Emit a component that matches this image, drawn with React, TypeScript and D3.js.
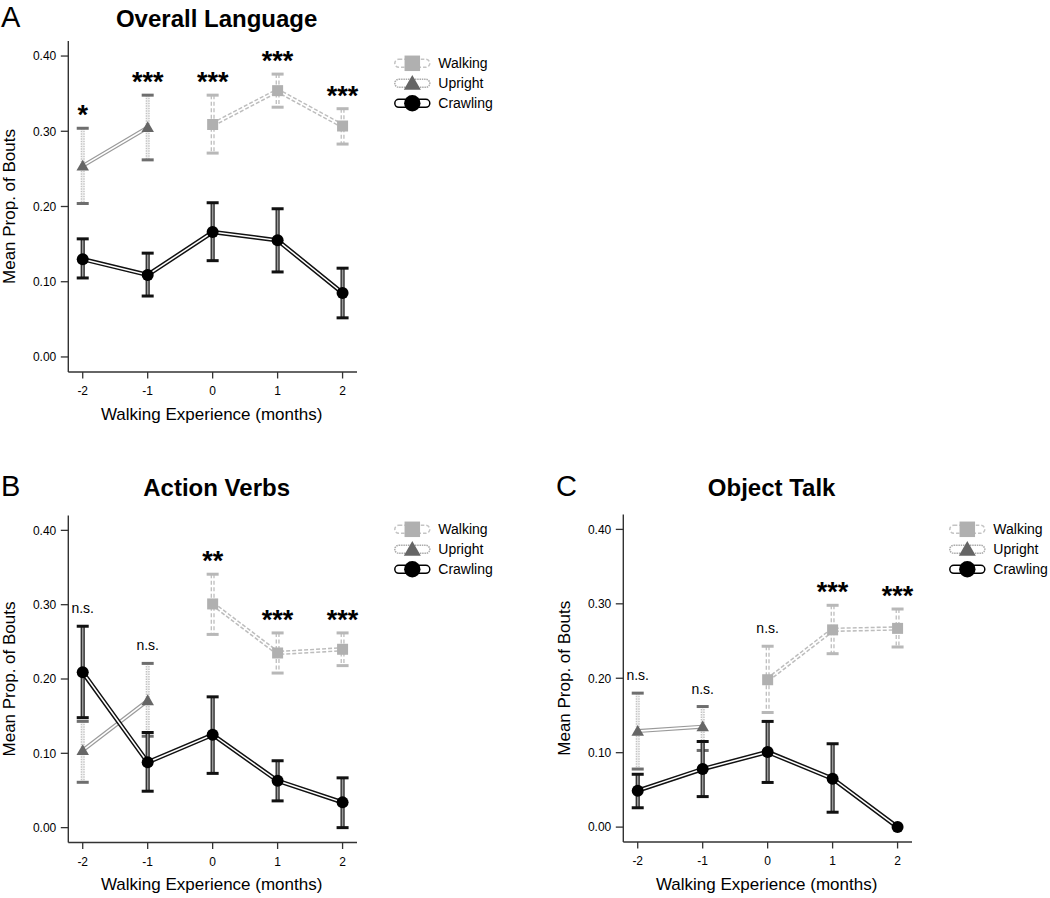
import React from "react";
import * as d3 from "d3";

// ---------- data ----------
const months = [-2, -1, 0, 1, 2];
const yTicks = [0, 0.1, 0.2, 0.3, 0.4];
const seriesNames = ["Walking", "Upright", "Crawling"];

// Panel A: Overall Language
const langWalkMean = [null, null, 0.309, 0.354, 0.307];
const langWalkHi = [null, null, 0.348, 0.376, 0.33];
const langWalkLo = [null, null, 0.271, 0.332, 0.283];
const langUprMean = [0.254, 0.305, null, null, null];
const langUprHi = [0.304, 0.348, null, null, null];
const langUprLo = [0.204, 0.262, null, null, null];
const langCrawlMean = [0.13, 0.109, 0.166, 0.155, 0.085];
const langCrawlHi = [0.157, 0.138, 0.205, 0.197, 0.118];
const langCrawlLo = [0.105, 0.081, 0.128, 0.113, 0.052];
const langSig = ["*", "***", "***", "***", "***"];

// Panel B: Action Verbs
const verbWalkMean = [null, null, 0.301, 0.235, 0.24];
const verbWalkHi = [null, null, 0.341, 0.262, 0.262];
const verbWalkLo = [null, null, 0.26, 0.208, 0.218];
const verbUprMean = [0.104, 0.171, null, null, null];
const verbUprHi = [0.143, 0.221, null, null, null];
const verbUprLo = [0.061, 0.123, null, null, null];
const verbCrawlMean = [0.209, 0.088, 0.125, 0.063, 0.034];
const verbCrawlHi = [0.271, 0.128, 0.176, 0.09, 0.067];
const verbCrawlLo = [0.148, 0.049, 0.073, 0.036, 0.0];
const verbSig = ["n.s.", "n.s.", "**", "***", "***"];

// Panel C: Object Talk
const objWalkMean = [null, null, 0.198, 0.265, 0.267];
const objWalkHi = [null, null, 0.243, 0.298, 0.293];
const objWalkLo = [null, null, 0.154, 0.233, 0.242];
const objUprMean = [0.129, 0.135, null, null, null];
const objUprHi = [0.18, 0.162, null, null, null];
const objUprLo = [0.078, 0.103, null, null, null];
const objCrawlMean = [0.049, 0.078, 0.101, 0.065, 0.0];
const objCrawlHi = [0.071, 0.115, 0.142, 0.112, null];
const objCrawlLo = [0.026, 0.041, 0.06, 0.02, null];
const objSig = ["n.s.", "n.s.", "n.s.", "***", "***"];

const FONT = "'Liberation Sans', Arial, Helvetica, sans-serif";

type Arr = (number | null)[];
interface Series { name: string; mean: Arr; hi: Arr; lo: Arr; }
interface PanelSpec {
  letter: string; title: string; series: Series[]; sig: string[];
  x0: number; x1: number; yBottom: number; yTop: number;
  letterX: number; baseY: number; legendY: number;
}

const mk = (name: string, mean: Arr, hi: Arr, lo: Arr): Series => ({ name, mean, hi, lo });

const panels: PanelSpec[] = [
  {
    letter: "A", title: "Overall Language", sig: langSig,
    series: [mk(seriesNames[0], langWalkMean, langWalkHi, langWalkLo), mk(seriesNames[1], langUprMean, langUprHi, langUprLo), mk(seriesNames[2], langCrawlMean, langCrawlHi, langCrawlLo)],
    x0: 68.3, x1: 357, yBottom: 372, yTop: 41, letterX: 1, baseY: 27, legendY: 63.3,
  },
  {
    letter: "B", title: "Action Verbs", sig: verbSig,
    series: [mk(seriesNames[0], verbWalkMean, verbWalkHi, verbWalkLo), mk(seriesNames[1], verbUprMean, verbUprHi, verbUprLo), mk(seriesNames[2], verbCrawlMean, verbCrawlHi, verbCrawlLo)],
    x0: 68.3, x1: 357, yBottom: 842.5, yTop: 515.5, letterX: 1, baseY: 496, legendY: 529.3,
  },
  {
    letter: "C", title: "Object Talk", sig: objSig,
    series: [mk(seriesNames[0], objWalkMean, objWalkHi, objWalkLo), mk(seriesNames[1], objUprMean, objUprHi, objUprLo), mk(seriesNames[2], objCrawlMean, objCrawlHi, objCrawlLo)],
    x0: 623.3, x1: 912, yBottom: 842, yTop: 514.5, letterX: 556, baseY: 496, legendY: 529.3,
  },
];

const styles: Record<string, any> = {
  Walking: {
    lineOuter: { stroke: "#bdbdbd", strokeWidth: 4.5, strokeDasharray: "4 2" },
    lineInner: { stroke: "#fff", strokeWidth: 1.5 },
    barOuter: { stroke: "#bdbdbd", strokeWidth: 4, strokeDasharray: "4 2.5" },
    barInner: { stroke: "#fff", strokeWidth: 1.4 },
    cap: "#b8b8b8",
  },
  Upright: {
    lineOuter: { stroke: "#9a9a9a", strokeWidth: 4 },
    lineInner: { stroke: "#fff", strokeWidth: 1.6 },
    barOuter: { stroke: "#c2c2c2", strokeWidth: 4, strokeDasharray: "1.5 1" },
    barInner: { stroke: "#eee", strokeWidth: 1.2 },
    cap: "#6e6e6e",
  },
  Crawling: {
    lineOuter: { stroke: "#111", strokeWidth: 4.5 },
    lineInner: { stroke: "#fff", strokeWidth: 1.5 },
    barOuter: { stroke: "#2a2a2a", strokeWidth: 4.2 },
    barInner: { stroke: "#9a9a9a", strokeWidth: 1.6 },
    cap: "#111",
  },
};

function Marker({ name, x, y, big }: { name: string; x: number; y: number; big?: boolean }) {
  if (name === "Crawling") {
    return <circle cx={x} cy={y} r={big ? 8.2 : 6} fill="#000" />;
  }
  if (name === "Upright") {
    const s = big ? 17 : 12.5;
    const sym = d3.symbol().type(d3.symbolTriangle).size((s * s * Math.sqrt(3)) / 4)();
    return <path d={sym || ""} transform={`translate(${x},${y + (big ? 1.5 : 1)})`} fill="#666" />;
  }
  const s = big ? 15.5 : 11;
  return <rect x={x - s / 2} y={y - s / 2} width={s} height={s} fill="#b0b0b0" />;
}

function Panel({ p }: { p: PanelSpec }) {
  const x = d3.scaleLinear().domain([-2.222, 2.222]).range([p.x0, p.x1]);
  const y = d3.scaleLinear().domain([-0.02, 0.42]).range([p.yBottom, p.yTop]);
  const line = d3
    .line<{ m: number; v: number | null }>()
    .defined((d) => d.v !== null)
    .x((d) => x(d.m))
    .y((d) => y(d.v as number));
  const cx = (p.x0 + p.x1) / 2 + 4;
  const yMid = (y(0) + y(0.4)) / 2;

  return (
    <g fontFamily={FONT}>
      <text x={p.letterX} y={p.baseY} fontSize={29} fill="#000">{p.letter}</text>
      <text x={cx} y={p.baseY} fontSize={24} fontWeight="bold" textAnchor="middle" fill="#000">{p.title}</text>

      {/* axes */}
      <line x1={p.x0} x2={p.x0} y1={p.yTop} y2={p.yBottom} stroke="#333" strokeWidth={1.4} />
      <line x1={p.x0} x2={p.x1} y1={p.yBottom} y2={p.yBottom} stroke="#333" strokeWidth={1.4} />
      {yTicks.map((t) => (
        <g key={"yt" + t}>
          <line x1={p.x0 - 7.5} x2={p.x0} y1={y(t)} y2={y(t)} stroke="#333" strokeWidth={1.3} />
          <text x={p.x0 - 12} y={y(t) + 4.3} fontSize={12} textAnchor="end" fill="#000">{t.toFixed(2)}</text>
        </g>
      ))}
      {months.map((m) => (
        <g key={"xt" + m}>
          <line x1={x(m)} x2={x(m)} y1={p.yBottom} y2={p.yBottom + 6.5} stroke="#333" strokeWidth={1.3} />
          <text x={x(m)} y={p.yBottom + 23} fontSize={12} textAnchor="middle" fill="#000">{String(m)}</text>
        </g>
      ))}
      <text x={(p.x0 + p.x1) / 2 - 1} y={p.yBottom + 47.5} fontSize={17} textAnchor="middle" fill="#000">
        Walking Experience (months)
      </text>
      <text transform={`translate(${p.x0 - 53},${yMid}) rotate(-90)`} fontSize={17} textAnchor="middle" fill="#000">
        Mean Prop. of Bouts
      </text>

      {/* series */}
      {p.series.map((s) => {
        const st = styles[s.name];
        const pts = months.map((m, i) => ({ m, v: s.mean[i] }));
        const d = line(pts) || "";
        return (
          <g key={s.name}>
            {months.map((m, i) =>
              s.hi[i] === null || s.lo[i] === null ? null : (
                <g key={"eb" + m}>
                  <line x1={x(m)} x2={x(m)} y1={y(s.hi[i] as number)} y2={y(s.lo[i] as number)} {...st.barOuter} />
                  <line x1={x(m)} x2={x(m)} y1={y(s.hi[i] as number)} y2={y(s.lo[i] as number)} {...st.barInner} />
                  <line x1={x(m) - 6} x2={x(m) + 6} y1={y(s.hi[i] as number)} y2={y(s.hi[i] as number)} stroke={st.cap} strokeWidth={3} />
                  <line x1={x(m) - 6} x2={x(m) + 6} y1={y(s.lo[i] as number)} y2={y(s.lo[i] as number)} stroke={st.cap} strokeWidth={3} />
                </g>
              )
            )}
            <path d={d} fill="none" {...st.lineOuter} />
            <path d={d} fill="none" {...st.lineInner} />
            {months.map((m, i) =>
              s.mean[i] === null ? null : <Marker key={"mk" + m} name={s.name} x={x(m)} y={y(s.mean[i] as number)} />
            )}
          </g>
        );
      })}

      {/* significance */}
      {months.map((m, i) => {
        const tops = p.series
          .map((s) => (s.hi[i] !== null ? s.hi[i] : s.mean[i]))
          .filter((v) => v !== null) as number[];
        const top = y(d3.max(tops) as number);
        const lab = p.sig[i];
        const ns = lab === "n.s.";
        return (
          <text
            key={"sig" + m}
            x={x(m)}
            y={ns ? top - 13 : top - 4}
            fontSize={ns ? 14 : 27}
            fontWeight={ns ? "normal" : "bold"}
            textAnchor="middle"
            fill="#000"
          >
            {lab}
          </text>
        );
      })}

      {/* legend */}
      {seriesNames.map((n, i) => {
        const ly = p.legendY + i * 20;
        const lx = p.x0 + 344;
        const outline =
          n === "Walking"
            ? { stroke: "#c4c4c4", strokeDasharray: "3.5 2" }
            : n === "Upright"
            ? { stroke: "#aaa", strokeDasharray: "1.5 0.8" }
            : { stroke: "#000" };
        return (
          <g key={"lg" + n}>
            <rect x={lx - 17.5} y={ly - 4} width={35} height={8} rx={4} fill="#fff" strokeWidth={1.5} {...outline} />
            <Marker name={n} x={lx} y={ly} big />
            <text x={p.x0 + 370} y={ly + 5} fontSize={14} fill="#000">{n}</text>
          </g>
        );
      })}
    </g>
  );
}

export default function App() {
  return (
    <svg
      width={1050}
      height={898}
      style={{ position: "absolute", left: 0, top: 0, background: "#fff" }}
    >
      <rect x={0} y={0} width={1050} height={898} fill="#fff" />
      {panels.map((p) => (
        <Panel key={p.letter} p={p} />
      ))}
    </svg>
  );
}
